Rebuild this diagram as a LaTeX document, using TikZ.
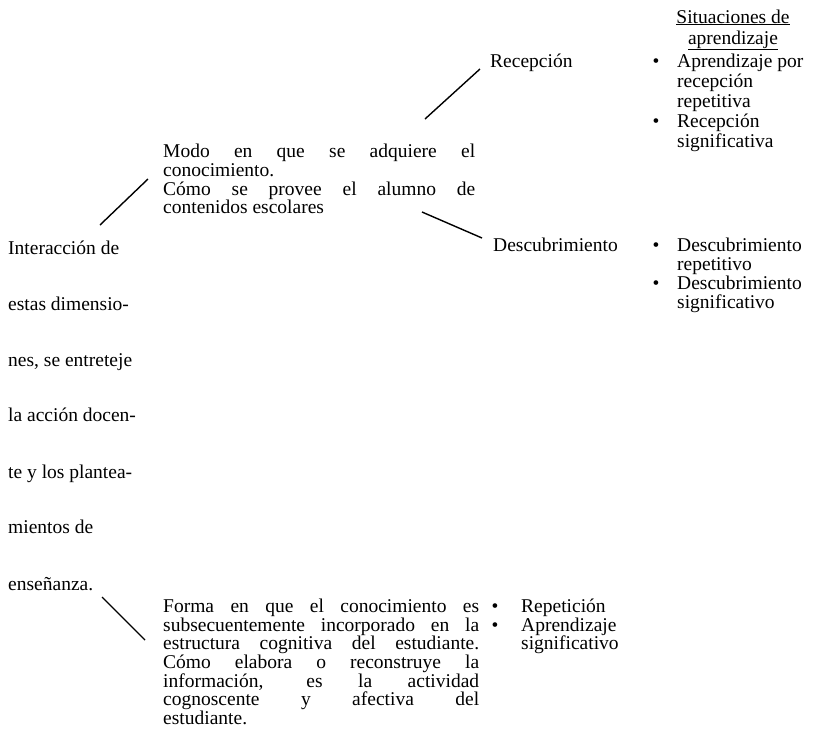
\documentclass[tikz,border=0pt]{standalone}
\usepackage{fontspec}
\setmainfont{Liberation Serif}
\newcommand\fsz{\fontsize{19.5}{19}\selectfont}
\newcommand\jline[2]{\makebox[#1][s]{#2}}
\begin{document}
\begin{tikzpicture}[x=1pt,y=-1pt,
  txt/.style={anchor=base west,inner sep=0pt,font=\fsz,text height=0.68em,text depth=0.2em},
  hdr/.style={txt,anchor=base},
  bul/.style={txt,anchor=base},
  link/.style={line width=1.4pt}]
\useasboundingbox (0,0) rectangle (815,729);

% header
\node[hdr] (h1) at (733,23) {\underline{Situaciones de}};
\node[hdr] (h2) at (733,44) {\underline{aprendizaje}};

% second column
\node[txt] (rec) at (490,67) {Recepción};
\node[txt] (des) at (493,251) {Descubrimiento};

% right column (reception)
\node[bul] (b1) at (656,67) {\textbullet};
\node[txt] (r1) at (677,67) {Aprendizaje por};
\node[txt] (r2) at (677,87) {recepción};
\node[txt] (r3) at (677,107) {repetitiva};
\node[bul] (b2) at (656,127) {\textbullet};
\node[txt] (r4) at (677,127) {Recepción};
\node[txt] (r5) at (677,147) {significativa};

% right column (discovery)
\node[bul] (b3) at (656,251) {\textbullet};
\node[txt] (d1) at (677,251) {Descubrimiento};
\node[txt] (d2) at (677,270) {repetitivo};
\node[bul] (b4) at (656,289) {\textbullet};
\node[txt] (d3) at (677,289) {Descubrimiento};
\node[txt] (d4) at (677,308) {significativo};

% Modo block
\node[txt] (m1) at (163,157) {\jline{312pt}{Modo en que se adquiere el}};
\node[txt] (m2) at (163,176) {conocimiento.};
\node[txt] (m3) at (163,195) {\jline{312pt}{Cómo se provee el alumno de}};
\node[txt] (m4) at (163,213) {contenidos escolares};

% left column
\node[txt] (l1) at (8,254) {Interacción de};
\node[txt] (l2) at (8,310) {estas dimensio-};
\node[txt] (l3) at (8,366) {nes, se entreteje};
\node[txt] (l4) at (8,421) {la acción docen-};
\node[txt] (l5) at (8,478) {te y los plantea-};
\node[txt] (l6) at (8,533) {mientos de};
\node[txt] (l7) at (8,590) {enseñanza.};

% Forma block
\node[txt] (f1) at (163,612) {\jline{316pt}{Forma en que el conocimiento es}};
\node[txt] (f2) at (163,631) {\jline{316pt}{subsecuentemente incorporado en la}};
\node[txt] (f3) at (163,649) {\jline{316pt}{estructura cognitiva del estudiante.}};
\node[txt] (f4) at (163,668) {\jline{316pt}{Cómo elabora o reconstruye la}};
\node[txt] (f5) at (163,687) {\jline{316pt}{información, es la actividad}};
\node[txt] (f6) at (163,705) {\jline{316pt}{cognoscente y afectiva del}};
\node[txt] (f7) at (163,724) {estudiante.};

% lower bullets
\node[bul] (b5) at (495,612) {\textbullet};
\node[txt] (p1) at (521,612) {Repetición};
\node[bul] (b6) at (495,631) {\textbullet};
\node[txt] (p2) at (521,631) {Aprendizaje};
\node[txt] (p3) at (521,649) {significativo};

% connector ends
\coordinate (c1a) at (100,225);
\coordinate (c1b) at (148,179);
\coordinate (c2a) at (425,119);
\coordinate (c2b) at (480,69);
\coordinate (c3a) at (422,212);
\coordinate (c3b) at (482,238);
\coordinate (c4a) at (102,597);
\coordinate (c4b) at (145,640);

\draw[link] (c1a) -- (c1b);
\draw[link] (c2a) -- (c2b);
\draw[link] (c3a) -- (c3b);
\draw[link] (c4a) -- (c4b);
\end{tikzpicture}
\end{document}
